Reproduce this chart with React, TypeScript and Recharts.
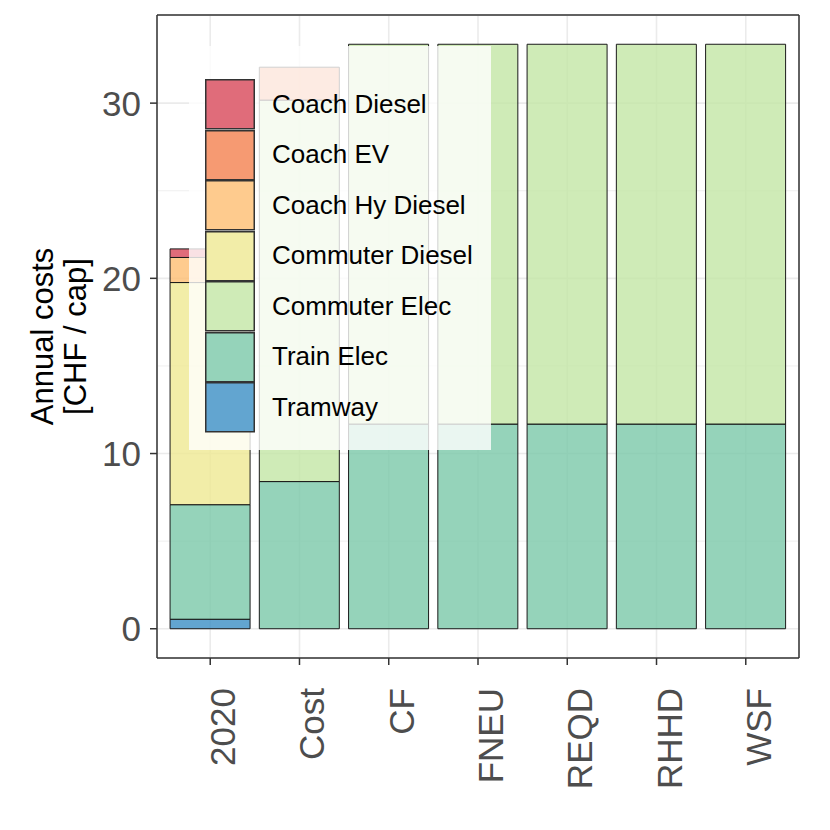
import React from 'react';
import { BarChart, Bar, XAxis, YAxis, CartesianGrid, Legend } from 'recharts';

// ---- data ----
const categories = ['2020', 'Cost', 'CF', 'FNEU', 'REQD', 'RHHD', 'WSF'];
const tramway = [0.54, 0, 0, 0, 0, 0, 0];
const trainElec = [6.54, 8.4, 11.68, 11.68, 11.68, 11.68, 11.68];
const commuterElec = [0, 21.77, 21.68, 21.68, 21.68, 21.68, 21.68];
const commuterDiesel = [12.68, 0, 0, 0, 0, 0, 0];
const coachHyDiesel = [1.43, 0, 0, 0, 0, 0, 0];
const coachEV = [0, 1.88, 0, 0, 0, 0, 0];
const coachDiesel = [0.49, 0, 0, 0, 0, 0, 0];

// stacking order: bottom -> top
const seriesNames = [
  'Tramway',
  'Train Elec',
  'Commuter Elec',
  'Commuter Diesel',
  'Coach Hy Diesel',
  'Coach EV',
  'Coach Diesel',
];
const seriesValues = [tramway, trainElec, commuterElec, commuterDiesel, coachHyDiesel, coachEV, coachDiesel];
const seriesColors = ['#3B8FC4', '#7AC8A9', '#C3E6A5', '#EFE992', '#FEBE72', '#F4814F', '#D84759'];

const yTicks = [0, 10, 20, 30];
const yMinorTicks = [5, 15, 25, 35];
const yDomain: [number, number] = [-1.67, 35.03];

const data = categories.map((c, i) => {
  const row: Record<string, number | string> = { category: c };
  seriesNames.forEach((n, k) => {
    row[n] = seriesValues[k][i];
  });
  return row;
});

const FONT = '"Liberation Sans", Arial, Helvetica, sans-serif';
const BORDER = '#333333';

const XTick = (props: any) => {
  const { x, y, payload } = props;
  const ax = x + 25;
  const ay = y + 21;
  return (
    <text
      x={ax}
      y={ay}
      transform={`rotate(-90, ${ax}, ${ay})`}
      textAnchor="end"
      fill="#4D4D4D"
      fontSize={35}
      fontFamily={FONT}
    >
      {payload.value}
    </text>
  );
};

const renderYTitle = (p: any) => {
  const vb = p.viewBox || { x: 0, y: 7, width: 149, height: 643 };
  const cy = vb.y + vb.height / 2;
  const x1 = vb.x + 45;
  const x2 = vb.x + 78;
  return (
    <g>
      <text
        x={x1}
        y={cy}
        transform={`rotate(-90, ${x1}, ${cy})`}
        textAnchor="middle"
        fontSize={31}
        fontFamily={FONT}
        fill="#000000"
      >
        Annual costs
      </text>
      <text
        x={x2}
        y={cy}
        transform={`rotate(-90, ${x2}, ${cy})`}
        textAnchor="middle"
        fontSize={31}
        fontFamily={FONT}
        fill="#000000"
      >
        [CHF / cap]
      </text>
    </g>
  );
};

const LegendBox = (props: any) => {
  const payload = (props.payload || [])
    .slice()
    .sort((a: any, b: any) => seriesNames.indexOf(b.value) - seriesNames.indexOf(a.value));
  return (
    <div
      style={{
        width: 302,
        height: 404,
        background: 'rgba(255,255,255,0.8)',
        boxSizing: 'border-box',
        paddingTop: 33,
        paddingLeft: 16,
        fontFamily: FONT,
      }}
    >
      {payload.map((entry: any) => (
        <div key={entry.value} style={{ display: 'flex', alignItems: 'center', height: 50.5 }}>
          <svg width={50} height={50.5} style={{ display: 'block', flex: 'none' }}>
            <rect x={0.75} y={0.75} width={48.5} height={49} fill="#FFFFFF" />
            <rect
              x={0.75}
              y={0.75}
              width={48.5}
              height={49}
              fill={entry.color}
              fillOpacity={0.8}
              stroke={BORDER}
              strokeWidth={1.5}
            />
          </svg>
          <span style={{ marginLeft: 17, fontSize: 26, color: '#000000', whiteSpace: 'nowrap' }}>
            {entry.value}
          </span>
        </div>
      ))}
    </div>
  );
};

export default function App() {
  return (
    <div style={{ width: 822, height: 822 }}>
      <BarChart
        width={822}
        height={822}
        data={data}
        margin={{ top: 6, right: 30, left: 0, bottom: 0 }}
        barCategoryGap="5%"
      >
        <CartesianGrid xAxisId="main" yAxisId="minor" vertical={false} stroke="#EBEBEB" strokeWidth={0.8} />
        <CartesianGrid xAxisId="main" yAxisId="main" stroke="#EBEBEB" strokeWidth={1.6} />
        <XAxis
          xAxisId="main"
          dataKey="category"
          height={172}
          padding={{ left: 8.6, right: 8.6 }}
          interval={0}
          tick={<XTick />}
          tickSize={7}
          tickLine={{ stroke: BORDER, strokeWidth: 1.5 }}
          axisLine={{ stroke: BORDER, strokeWidth: 1.5 }}
        />
        <XAxis
          xAxisId="top"
          dataKey="category"
          orientation="top"
          height={1}
          tick={false}
          tickLine={false}
          axisLine={{ stroke: BORDER, strokeWidth: 1.5 }}
        />
        <YAxis
          yAxisId="main"
          type="number"
          domain={yDomain}
          ticks={yTicks}
          allowDataOverflow
          width={149}
          tickSize={7}
          tickMargin={9}
          tick={{ fill: '#4D4D4D', fontSize: 35, fontFamily: FONT }}
          tickLine={{ stroke: BORDER, strokeWidth: 1.5 }}
          axisLine={{ stroke: BORDER, strokeWidth: 1.5 }}
          label={renderYTitle}
        />
        <YAxis yAxisId="minor" type="number" domain={yDomain} ticks={yMinorTicks} allowDataOverflow hide />
        <YAxis
          yAxisId="right"
          type="number"
          orientation="right"
          domain={yDomain}
          allowDataOverflow
          width={1}
          tick={false}
          tickLine={false}
          axisLine={{ stroke: BORDER, strokeWidth: 1.5 }}
        />
        {seriesNames.map((n, k) => (
          <Bar
            key={n}
            dataKey={n}
            name={n}
            stackId="s"
            xAxisId="main"
            yAxisId="main"
            fill={seriesColors[k]}
            fillOpacity={0.8}
            stroke="#1A1A1A"
            strokeWidth={1}
            isAnimationActive={false}
          />
        ))}
        <Legend
          layout="vertical"
          align="center"
          verticalAlign="middle"
          wrapperStyle={{ position: 'absolute', left: 181, top: 38, width: 302, height: 404 }}
          content={(p: any) => <LegendBox payload={p.payload} />}
        />
      </BarChart>
    </div>
  );
}
